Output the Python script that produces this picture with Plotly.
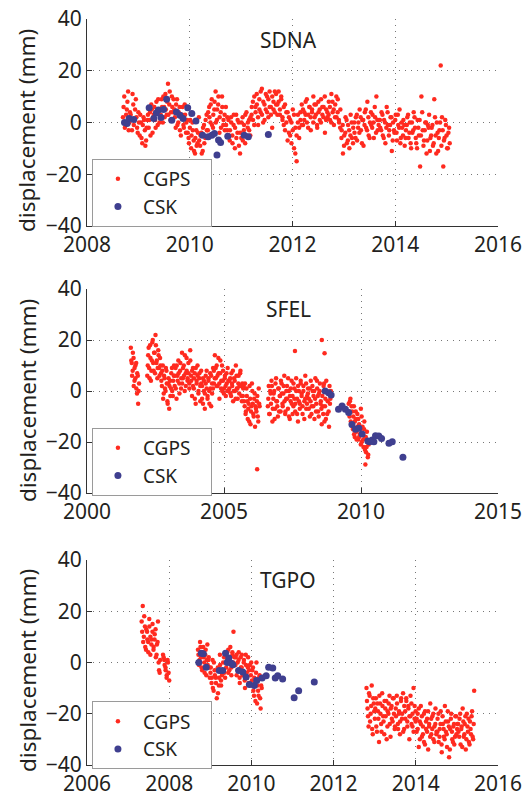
import numpy as np
import plotly.graph_objects as go

# ---------------- DATA ----------------
# SDNA CGPS: one continuous segment, two interleaved value passes (mm)
sdna_gps_spans = [[2008.70, 2015.06]]
sdna_gps_spans2 = [[2008.712, 2015.048]]
sdna_gps_d = [[
    2, 10, -1, 5, 12, 0, 3, -3, 7, 1, 9, -2, 4, -5, 0, -8, 2, -3, -7, 1,
    -2, 4, 7, -4, 3, 1, 8, -1, 5, 2, 9, 0, 6, 11, 3, 15, 7, 1, 10, 4,
    5, -2, 9, 0, 6, -5, 3, -1, 7, -4, 1, -6, -2, -10, 0, -7, -12, -3, -8, 2,
    -9, -4, -11, -1, -6, 3, -3, 6, 0, 9, -2, 5, 12, 1, 7, -4, 4, 10, -1, 3,
    6, -3, 1, -7, 2, -5, -1, -10, 3, -4, 0, -12, -6, 2, -3, -8, 4, -2, 1, -5,
    3, 8, -1, 6, 11, 2, 9, 4, 13, 0, 7, 5, 10, 2, 12, 6, -2, 8, 4, 11,
    7, 12, 3, 9, 1, 6, -3, 4, -7, 2, -5, 0, 5, -10, -2, -15, 3, -6, 1, 7,
    -1, 4, 8, 0, 3, 6, -3, 5, 10, 2, 7, -2, 4, 1, 9, 3, 6, -4, 5, 2,
    8, 1, 11, 4, -1, 7, 2, 9, 0, 5, -3, -12, -5, 2, -8, -1, -10, 3, -6, -2,
    -4, 2, -7, 0, 5, -3, 1, -9, 4, -2, 8, -5, 0, -1, 3, -6, 2, 10, -3, 1,
    -2, 4, -5, 1, -8, 6, -1, -3, 2, -11, 0, -4, 3, -7, -1, 5, -6, -2, 1, -9,
    -3, 2, -6, 0, -10, -4, 4, -2, -8, 1, -5, -17, 10, -3, -7, 0, -12, -1, 3, -6,
    -2, -9, 9, -5, 0, -11, -3, 22, 2, -17, -6, -1, -10, -4, -8,
]]
sdna_gps_d2 = [[
    6, -2, 3, 8, -3, 4, 1, 11, -1, 5, 2, -4, 0, 3, -6, -1, 1, -9, -2, 3,
    1, -5, 5, 2, 6, -2, 4, 9, 0, 3, 6, 10, 2, 5, 8, 3, 12, 4, 6, 9,
    2, 7, -1, 4, -3, 2, 6, -2, 3, 0, -4, -8, 1, -5, -3, -11, -6, -9, -4, -7,
    -5, -12, -2, -8, 1, -3, 4, 2, 7, -1, 3, 8, 0, 5, 10, 2, -2, 6, 1, -3,
    -1, 2, -5, -3, 0, -8, 3, -2, -6, 1, -9, -4, 0, -7, -1, 3, -5, 0, -3, 2,
    6, 1, 10, 4, 7, -1, 5, 12, 3, 8, 1, 11, 4, 9, 6, 3, 10, 5, 12, 7,
    3, 8, 5, 10, 2, -1, 7, 0, 4, -4, 1, -8, -3, 3, -12, -5, 0, -2, 4, -1,
    5, 1, 3, 9, -2, 6, 2, 4, 0, 7, 3, -1, 8, 5, 0, 6, 2, 10, 1, 4,
    3, 6, 0, 8, 5, 2, 10, 4, 1, -2, -6, -1, -9, -4, 1, -7, -3, -5, 0, -8,
    0, -6, 3, -2, -4, 2, -8, 1, -1, 5, -3, 2, -6, 4, -2, 0, 6, -4, 1, -1,
    1, -3, 3, -6, 0, -2, 4, -5, -1, 2, -7, -3, 1, -4, 3, -2, -8, 0, -5, -1,
    -6, -1, 3, -4, -8, 0, -3, 2, -6, -10, -2, 1, -5, 4, -9, -3, 0, -7, -2, -11,
    -5, -1, -8, 2, -12, -4, -6, 0, -9, -3, -7, 1, -5, -10, -2,
]]
sdna_csk_t = [2008.73, 2008.78, 2008.82, 2008.91, 2009.21, 2009.30, 2009.35, 2009.39,
              2009.44, 2009.49, 2009.55, 2009.65, 2009.74, 2009.81, 2009.87, 2009.96,
              2010.04, 2010.12, 2010.25, 2010.36, 2010.43, 2010.48, 2010.53, 2010.56,
              2010.60, 2010.74, 2011.06, 2011.14, 2011.53]
sdna_csk_d = [0.0, -0.4, 1.5, 1.2, 5.7, 1.5, 3.7, 4.8, 1.9, 5.0, 9.0, 0.9, 4.1, 2.8,
              1.5, 5.7, 3.5, 0.6, -4.9, -5.5, -4.9, -4.3, -12.6, -6.8, -7.7, -5.3,
              -4.9, -5.5, -4.6]

# SFEL CGPS: several segments, two value passes
sfel_gps_spans = [[2001.60, 2001.90], [2002.20, 2006.30], [2006.60, 2008.90], [2009.55, 2010.28]]
sfel_gps_spans2 = [[2001.615, 2001.885], [2002.217, 2006.283], [2006.617, 2008.883], [2009.565, 2010.265]]
sfel_gps_d = [
    [17, 11, 8, 13, 4, 10, 1, 7, -5, 3],
    [6, 14, 9, 18, 4, 12, 20, 8, 15, 22, 11, 5, 16, 9, 13,
     7, 2, 10, -1, 5, 0, 8, -4, 3, -7, 4, 1, 9, -2, 6,
     2, 9, -3, 6, 12, 3, 8, 1, 15, 5, 10, 0, 7, 13, 4,
     11, 3, 16, 6, -2, 9, 1, 7, -5, 4, 10, -1, 5, 2, 8,
     -3, 5, 0, -7, 3, 8, -2, 4, -5, 1, 6, -1, 9, 3, 14,
     5, 10, 2, 7, -3, 12, 4, 0, 8, 1, 6, -2, 3, 9, 0,
     4, -1, 7, 2, -4, 5, 0, 10, 1, -3, 6, 2, 8, -2, 3,
     1, -4, 3, -8, -2, -11, -5, 2, -13, -6, 0, -9, -3, -14, -7,
     -4, -10, 1, -6],
    [-6, 2, -9, -1, 4, -12, -3, 0, -7, 5, -4, -10, 1, -2, -8,
     3, -5, -1, 6, -9, -3, 2, -7, 0, -11, -4, 4, -2, -6, 1,
     -8, 5, -3, -12, 0, -5, 3, -1, -9, 2, -4, 6, -7, -2, 1,
     -3, -10, 4, -6, 0, -2, -11, 5, -5, 1, -8, -1, 3, -4, -13,
     -6, 2, -12, -3, 4, -9, -1, -14, -5, 0],
    [-5, -10, -3, -13, -8, -15, -6, -18, -11, -16, -9, -19, -13, -17, -7, -20,
     -14, -22, -12, -18, -24, -16, -26, -21],
]
sfel_gps_d2 = [
    [12, 6, 15, 2, 9, 5, 11, -1, 6, 0],
    [10, 17, 5, 13, 8, 19, 11, 15, 7, 18, 12, 9, 14, 6, 10,
     4, 8, -3, 6, 1, 9, 3, -5, 5, 2, -2, 7, 0, 4, 10,
     6, 1, 10, 4, 7, -1, 11, 5, 3, 9, 6, 14, 2, 8, 5,
     7, 1, 12, 4, 8, 2, 5, -3, 9, 3, 6, 0, 7, -4, 3,
     2, -5, 4, -1, 6, 1, -3, 5, 0, 7, -6, 3, 1, 8, 5,
     9, 2, 6, 13, 3, 7, 1, 10, 4, -1, 5, 2, 7, 0, 4,
     1, 5, -2, 3, 8, 0, 4, -3, 6, 1, 3, -1, 7, 2, -4,
     -2, 2, -6, -9, 1, -4, -7, -12, -3, -8, 3, -5, -10, -1, -6,
     -8, -2, -12, -5],
    [-3, -9, 0, -5, 2, -7, -1, -11, 3, -4, -6, 1, -8, -2, 4,
     -1, -6, 2, -4, -8, 0, -3, 5, -10, -2, 1, -5, -9, 3, -3,
     -5, 0, -9, 2, -4, -7, 4, -2, -6, 0, -11, -3, 3, -5, -1,
     -7, 1, -4, -9, 2, -6, 0, -3, -8, 4, -2, -10, 0, -5, -7,
     -2, -9, 3, -6, -11, 0, -4, -8, 2, -3],
    [-8, -4, -12, -6, -14, -10, -17, -12, -8, -19, -14, -11, -18, -15, -21, -10,
     -17, -19, -15, -23, -18, -22, -20, -25],
]
sfel_gps_extra_t = [2006.21, 2007.59, 2008.57, 2008.67, 2010.16]
sfel_gps_extra_d = [-30.7, 15.7, 20.0, 14.8, -28.8]
sfel_csk_t = [2008.69, 2008.82, 2008.91, 2009.18, 2009.31, 2009.43, 2009.55, 2009.67,
              2009.80, 2009.92, 2010.04, 2010.25, 2010.32, 2010.41, 2010.47, 2010.53,
              2010.65, 2010.75, 2011.02, 2011.14, 2011.53]
sfel_csk_d = [0.0, -0.7, -1.6, -7.1, -5.9, -7.1, -8.4, -13.1, -15.0, -14.6, -16.9,
              -19.6, -19.9, -19.2, -19.9, -17.5, -17.6, -18.6, -20.5, -19.9, -26.0]

# TGPO CGPS: several segments, two value passes
tgpo_gps_spans = [[2007.33, 2007.78], [2007.85, 2008.00], [2008.70, 2010.25], [2012.80, 2015.42]]
tgpo_gps_spans2 = [[2007.342, 2007.768], [2007.865, 2007.985], [2008.712, 2010.238], [2012.812, 2015.408]]
tgpo_gps_d = [
    [16, 22, 10, 14, 5, 12, 8, 17, 3, 9, 15, 6, 11, 2, 7, 16, -3, 1],
    [3, 1, -2, -5, 0, -7],
    [5, -1, 8, 2, -3, 6, 0, 3, -5, 7, 1, -2,
     -4, -8, 1, -11, -3, -6, -14, -2, -9, 3, -7, -5,
     -3, 2, -6, 0, 4, -4, 1, 6, -2, 3, 12, -1,
     2, -5, 0, 4, -8, -2, 3, -4, 1, -10, -1, -6, 2, -3, -9, 0,
     -3, -11, -6, -15, 0, -9, -13, -5, -18, -10],
    [-10, -18, -25, -13, -20, -9, -28, -16,
     -22, -14, -27, -19, -31, -16, -24, -12, -21, -28, -18, -15, -25, -20, -13, -29, -17, -23, -14, -26,
     -18, -13, -24, -20, -28, -15, -22, -12, -26, -19, -14, -23, -17, -30, -21, -16, -25, -10, -22, -19,
     -27, -20, -33, -23, -17, -29, -25, -31, -19, -26, -22, -34, -24, -16, -28, -21, -30, -25, -18, -27,
     -22, -31, -26, -19, -35, -24, -29, -17, -27, -33, -23, -37, -26, -20, -30, -25, -32, -21, -28, -24,
     -27, -22, -32, -25, -18, -29, -24, -34, -20, -27, -31, -23, -28, -19, -30, -11],
]
tgpo_gps_d2 = [
    [12, 8, 18, 6, 13, 9, 4, 14, 10, 7, 12, 5, 9, 13, 3, 8, 0, -4],
    [2, -1, -3, -6, 1, -4],
    [3, 1, 6, -2, 4, 2, -4, 5, 1, -1, 2, -6,
     -2, -6, -10, 0, -5, -8, -3, -12, -6, -1, -9, -4,
     0, -4, 3, -2, 1, 5, -3, 2, -5, 4, 0, 2,
     -1, 3, -3, 1, -6, 2, -2, -5, 0, -7, 3, -4, -2, -8, -1, -5,
     -7, -2, -13, -8, -4, -16, -11, -6, -14, -9],
    [-15, -21, -12, -23, -17, -26, -14, -19,
     -18, -25, -16, -22, -13, -20, -27, -17, -23, -15, -21, -30, -19, -16, -24, -18, -22, -14, -20, -25,
     -21, -16, -26, -19, -23, -14, -20, -27, -17, -22, -15, -25, -18, -21, -13, -24, -20, -27, -17, -23,
     -22, -26, -18, -30, -24, -21, -28, -20, -32, -23, -27, -19, -25, -29, -22, -26, -20, -31, -24, -28,
     -27, -20, -29, -24, -32, -21, -26, -30, -23, -28, -19, -25, -34, -22, -27, -31, -24, -29, -21, -26,
     -24, -29, -20, -26, -33, -23, -28, -21, -30, -25, -22, -32, -26, -21, -29, -24],
]
tgpo_csk_t = [2008.72, 2008.78, 2008.83, 2008.90, 2009.22, 2009.30, 2009.37, 2009.41,
              2009.45, 2009.51, 2009.55, 2009.69, 2009.79, 2009.87, 2009.95, 2010.07,
              2010.13, 2010.26, 2010.36, 2010.42, 2010.52, 2010.58, 2010.64, 2010.76,
              2011.04, 2011.15, 2011.53]
tgpo_csk_d = [0.0, 3.6, 3.4, -1.9, -3.1, -3.1, 3.6, 0.0, 1.7, -0.3, -0.9, -3.1, -3.7,
              -5.7, -8.6, -9.0, -7.0, -6.1, -5.2, -1.9, -2.2, -6.1, -5.2, -6.5, -13.8,
              -11.0, -7.6]

station_names = ["SDNA", "SFEL", "TGPO"]
x_ranges = [[2008, 2016], [2000, 2015], [2006, 2016]]
x_dticks = [2, 5, 2]
y_range = [-40, 40]
y_ticks = [-40, -20, 0, 20, 40]
series_names = ["CGPS", "CSK"]
y_title = "displacement (mm)"


def expand(spans, values):
    ts, ds = [], []
    for (a, b), v in zip(spans, values):
        ts.extend(np.linspace(a, b, len(v)).tolist())
        ds.extend(v)
    return ts, ds


def collect(spans, vals, spans2, vals2, extra_t=(), extra_d=()):
    t1, d1 = expand(spans, vals)
    t2, d2 = expand(spans2, vals2)
    return t1 + t2 + list(extra_t), d1 + d2 + list(extra_d)


gps = [
    collect(sdna_gps_spans, sdna_gps_d, sdna_gps_spans2, sdna_gps_d2),
    collect(sfel_gps_spans, sfel_gps_d, sfel_gps_spans2, sfel_gps_d2, sfel_gps_extra_t, sfel_gps_extra_d),
    collect(tgpo_gps_spans, tgpo_gps_d, tgpo_gps_spans2, tgpo_gps_d2),
]
csk = [(sdna_csk_t, sdna_csk_d), (sfel_csk_t, sfel_csk_d), (tgpo_csk_t, tgpo_csk_d)]

# ---------------- FIGURE ----------------
RED = "#ff2a1f"
BLUE = "#3f3f8f"
TXT = "#231f20"
FONT = "Noto Sans, Liberation Sans, sans-serif"
NB = "\u00a0\u00a0\u00a0"

y_domains = [[0.7168, 0.9762], [0.3822, 0.6378], [0.0414, 0.2983]]
legend_y = [0.8008, 0.4637, 0.121]
ytitle_y = [0.8371, 0.4987, 0.1604]

fig = go.Figure()
for i in range(3):
    ax = "" if i == 0 else str(i + 1)
    lg = "legend" if i == 0 else "legend" + str(i + 1)
    fig.add_trace(go.Scatter(
        x=gps[i][0], y=gps[i][1], mode="markers", name=series_names[0] + NB,
        marker=dict(color=RED, size=4.5, line=dict(width=0)),
        xaxis="x" + ax, yaxis="y" + ax, legend=lg))
    fig.add_trace(go.Scatter(
        x=csk[i][0], y=csk[i][1], mode="markers", name=series_names[1] + NB,
        marker=dict(color=BLUE, size=7, line=dict(width=0)),
        xaxis="x" + ax, yaxis="y" + ax, legend=lg))

layout = dict(
    width=528, height=798, autosize=False,
    margin=dict(l=87, r=30, t=0, b=0, pad=0),
    paper_bgcolor="white", plot_bgcolor="white",
    font=dict(family=FONT, size=22, color=TXT),
    showlegend=True,
)
for i in range(3):
    ax = "" if i == 0 else str(i + 1)
    layout["xaxis" + ax] = dict(
        domain=[0, 1], anchor="y" + ax, range=x_ranges[i], dtick=x_dticks[i], tick0=2000,
        automargin=False,
        showline=True, linecolor="#333333", linewidth=1, mirror=False,
        ticks="inside", ticklen=5, tickcolor="#333333",
        showgrid=True, gridcolor="#777777", griddash="1px,5px", gridwidth=1,
        zeroline=False, tickfont=dict(size=21, color=TXT),
    )
    layout["yaxis" + ax] = dict(
        domain=y_domains[i], anchor="x" + ax, range=y_range, tickvals=y_ticks,
        automargin=False,
        showline=True, linecolor="#333333", linewidth=1, mirror=False,
        ticks="inside", ticklen=5, tickcolor="#333333",
        showgrid=True, gridcolor="#777777", griddash="1px,5px", gridwidth=1,
        zeroline=False, tickfont=dict(size=21, color=TXT),
    )
    lg = "legend" if i == 0 else "legend" + str(i + 1)
    layout[lg] = dict(
        x=0.012, y=legend_y[i], xanchor="left", yanchor="top",
        bgcolor="white", bordercolor="#9a9a9a", borderwidth=1,
        font=dict(size=19, color=TXT), itemwidth=40,
    )
fig.update_layout(**layout)

for i in range(3):
    ax = "" if i == 0 else str(i + 1)
    fig.add_annotation(
        text=station_names[i], xref="x" + ax + " domain", yref="y" + ax + " domain",
        x=0.49, y=0.9, xanchor="center", yanchor="middle", showarrow=False,
        font=dict(size=21, color=TXT))
    fig.add_annotation(
        text=y_title, xref="paper", yref="paper", x=-0.146, y=ytitle_y[i],
        xanchor="center", yanchor="middle", textangle=-90, showarrow=False,
        font=dict(size=22.5, color=TXT))

fig.write_html("out.html", config={"displayModeBar": False},
               post_script="document.body.style.margin='0';document.body.style.overflow='hidden';")
